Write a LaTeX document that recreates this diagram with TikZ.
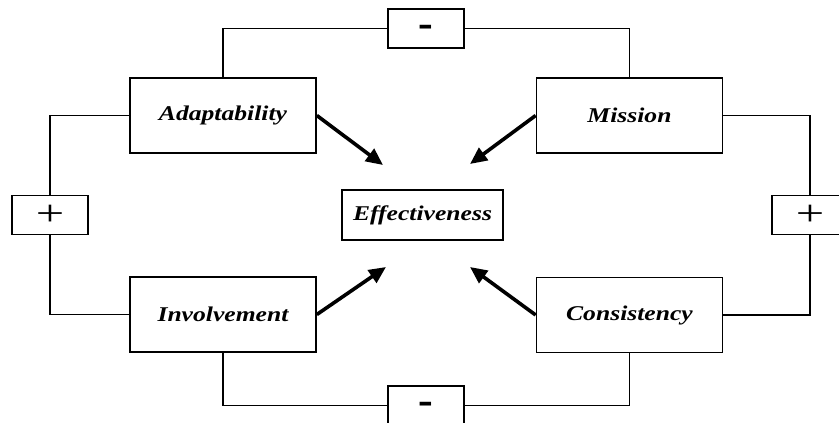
\documentclass[tikz,border=0pt]{standalone}
\usepackage{fontspec}
\setmainfont{Liberation Serif}
\usetikzlibrary{arrows.meta}
\begin{document}
\begin{tikzpicture}[x=1pt,y=-1pt,
  box/.style={draw,line width=1.7pt,minimum width=186pt,minimum height=75pt,inner sep=0pt},
  sign/.style={draw,line width=1.7pt,minimum width=76pt,minimum height=39pt,inner sep=0pt},
  lbl/.style={font=\fontsize{21}{24}\selectfont\bfseries\itshape},
  minus/.style={font=\fontsize{44}{44}\selectfont\bfseries,inner sep=0pt},
  plus/.style={font=\fontsize{36}{36}\selectfont,inner sep=0pt},
  wire/.style={line width=1.7pt},
  big/.style={line width=3.6pt,-{Triangle[length=17pt,width=15pt]}}]
\useasboundingbox (0,0) rectangle (839,423);
\node[box] (A) at (223,115.5) {};
\node[lbl] at (A.center) {\scalebox{1.22}[1]{Adaptability}};
\node[box] (M) at (629.5,115.5) {};
\node[lbl] at (M.center) {\scalebox{1.22}[1]{Mission}};
\node[box] (I) at (223,314.5) {};
\node[lbl] at (I.center) {\scalebox{1.22}[1]{Involvement}};
\node[box] (C) at (629.5,315) {};
\node[lbl] at (C.center) {\scalebox{1.22}[1]{Consistency}};
\node[draw,line width=1.7pt,minimum width=161pt,minimum height=50pt,inner sep=0pt] (E) at (422.5,215) {};
\node[lbl] at (E.center) {\scalebox{1.22}[1]{Effectiveness}};
\node[sign] (mt) at (426,28.5) {};
\node[minus] at ([yshift=1pt]mt.center) {\smash{\raisebox{-0.23em}{-}}};
\node[sign] (mb) at (426,405.5) {};
\node[minus] at ([yshift=1pt]mb.center) {\smash{\raisebox{-0.23em}{-}}};
\node[sign] (pl) at (50,215) {};
\node[plus] at (pl.center) {\scalebox{1.4}[1]{+}};
\node[sign] (pr) at (810,215) {};
\node[plus] at (pr.center) {\scalebox{1.4}[1]{+}};
\draw[wire] (A.north) |- (mt.west);
\draw[wire] (mt.east) -| (M.north);
\draw[wire] (M.east) -| (pr.north);
\draw[wire] (pr.south) |- (C.east);
\draw[wire] (C.south) |- (mb.east);
\draw[wire] (mb.west) -| (I.south);
\draw[wire] (I.west) -| (pl.south);
\draw[wire] (pl.north) |- (A.west);
\coordinate (tA) at (383,165);
\coordinate (tM) at (470,164);
\coordinate (tI) at (386,267);
\coordinate (tC) at (470,267);
\draw[big] (A.east) -- (tA);
\draw[big] (M.west) -- (tM);
\draw[big] (I.east) -- (tI);
\draw[big] (C.west) -- (tC);
\end{tikzpicture}
\end{document}
